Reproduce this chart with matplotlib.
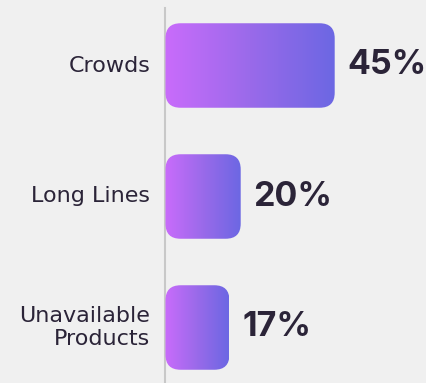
import matplotlib.pyplot as plt
import numpy as np
from matplotlib.patches import FancyBboxPatch
from matplotlib.colors import LinearSegmentedColormap

categories = ["Crowds", "Long Lines", "Unavailable\nProducts"]
values = [45, 20, 17]
value_labels = ["45%", "20%", "17%"]

bg = "#f0f0f0"
text_color = "#2b2438"
grad = LinearSegmentedColormap.from_list("grad", ["#c96cfb", "#9a6aea", "#6c67e3"])

fig = plt.figure(figsize=(4.27, 3.83), dpi=100, facecolor=bg)
ax = fig.add_axes([0, 0, 1, 1])
ax.set_facecolor(bg)

px_per_unit = 3.76
x0 = 165.5
ax.set_xlim(-x0 / px_per_unit, (427 - x0) / px_per_unit)
ax.set_ylim((383 - 65.5) / 131, -65.5 / 131)
ax.axis("off")

bar_h = 0.645
r_x = 4.0
r_y = 0.115
gradient = np.linspace(0, 1, 256).reshape(1, -1)

for i, (cat, v, lab) in enumerate(zip(categories, values, value_labels)):
    patch = FancyBboxPatch((0, i - bar_h / 2), v, bar_h,
                           boxstyle=f"round,pad=0,rounding_size={r_x}",
                           mutation_aspect=r_y / r_x,
                           facecolor="none", edgecolor="none")
    ax.add_patch(patch)
    im = ax.imshow(gradient, cmap=grad, aspect="auto",
                   extent=(0, v, i + bar_h / 2, i - bar_h / 2), zorder=2)
    im.set_clip_path(patch)
    ax.text(-4.0, i, cat, ha="right", va="center", fontsize=16,
            color=text_color, family="DejaVu Sans", linespacing=1.2)
    ax.text(v + 3.4, i, lab, ha="left", va="center", fontsize=24.5,
            fontweight="bold", color=text_color, family="Inter")

ax.axvline(0, ymin=0, ymax=1 - 8 / 383, color="#c8c8c8", lw=1.5, zorder=1)

fig.savefig("out.png", dpi=100, facecolor=bg)
